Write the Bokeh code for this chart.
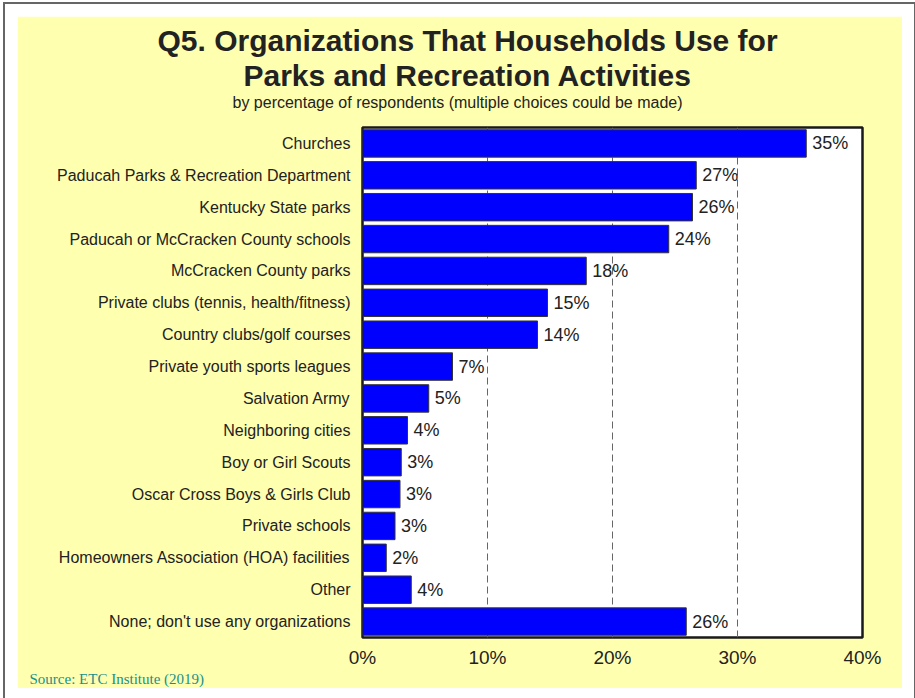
from bokeh.plotting import figure
from bokeh.models import FactorRange, Range1d, FixedTicker, Title, ColumnDataSource
from bokeh.core.properties import value
from bokeh.embed import file_html
from bokeh.resources import INLINE

categories = [
    "Churches",
    "Paducah Parks & Recreation Department",
    "Kentucky State parks",
    "Paducah or McCracken County schools",
    "McCracken County parks",
    "Private clubs (tennis, health/fitness)",
    "Country clubs/golf courses",
    "Private youth sports leagues",
    "Salvation Army",
    "Neighboring cities",
    "Boy or Girl Scouts",
    "Oscar Cross Boys & Girls Club",
    "Private schools",
    "Homeowners Association (HOA) facilities",
    "Other",
    "None; don't use any organizations",
]
percentages = [35.5, 26.7, 26.4, 24.5, 17.9, 14.8, 14.0, 7.2, 5.3, 3.6, 3.1, 3.0, 2.6, 1.9, 3.9, 25.9]
value_labels = ["35%", "27%", "26%", "24%", "18%", "15%", "14%", "7%", "5%", "4%",
                "3%", "3%", "3%", "2%", "4%", "26%"]
x_ticks = [0, 10, 20, 30, 40]
x_tick_labels = ["0%", "10%", "20%", "30%", "40%"]

title_line1 = "Q5. Organizations That Households Use for"
title_line2 = "Parks and Recreation Activities"
subtitle = "by percentage of respondents (multiple choices could be made)"
source_note = "Source:  ETC Institute (2019)"

FONT = "Liberation Sans"
TEXT = "#222222"
YELLOW = "#FFFFB0"

src = ColumnDataSource(dict(cat=categories, pct=percentages, lbl=value_labels))

p = figure(
    y_range=FactorRange(factors=categories[::-1], range_padding=0),
    x_range=Range1d(0, 40),
    frame_width=500, frame_height=510,
    min_border_left=345, min_border_right=40, min_border_top=111, min_border_bottom=49,
    output_backend="svg", toolbar_location=None,
    background_fill_color="white", border_fill_color=YELLOW,
    outline_line_color="#1A1A1A", outline_line_width=2.5,
    margin=(16, 0, 0, 17),
    styles={"outline": "2px solid #666666", "outline-offset": "12px"},
)

p.hbar(y="cat", left=0, right="pct", height=0.86, source=src,
       fill_color="#0000FF", line_color="#333333", line_width=1)

p.text(x="pct", y="cat", text="lbl", source=src, x_offset=6,
       text_align="left", text_baseline="middle",
       text_font=value(FONT), text_font_size="18px", text_color=TEXT)

# x axis
p.xaxis.ticker = FixedTicker(ticks=x_ticks)
p.xaxis.major_label_overrides = {t: l for t, l in zip(x_ticks, x_tick_labels)}
p.xaxis.axis_line_color = None
p.xaxis.major_tick_line_color = None
p.xaxis.minor_tick_line_color = None
p.xaxis.major_tick_out = 0
p.xaxis.major_tick_in = 0
p.xaxis.major_label_standoff = 9
p.xaxis.major_label_text_font = FONT
p.xaxis.major_label_text_font_size = "19px"
p.xaxis.major_label_text_color = TEXT

# y axis
p.yaxis.axis_line_color = None
p.yaxis.major_tick_line_color = None
p.yaxis.minor_tick_line_color = None
p.yaxis.major_tick_out = 0
p.yaxis.major_tick_in = 0
p.yaxis.major_label_standoff = 12
p.yaxis.major_label_text_font = FONT
p.yaxis.major_label_text_font_size = "16px"
p.yaxis.major_label_text_color = TEXT

# grids
p.xgrid.ticker = FixedTicker(ticks=x_ticks)
p.xgrid.grid_line_color = "#666666"
p.xgrid.grid_line_dash = "7 4"
p.xgrid.grid_line_width = 1
p.ygrid.grid_line_color = None

# ---- titles (stacked above the frame, nearest first) ----
# spacer between frame and subtitle
p.add_layout(Title(text=" ", align="left", text_font=FONT, text_font_size="1px",
                   standoff=14), "above")
p.add_layout(Title(text=subtitle, align="left", offset=-130, text_font=FONT,
                   text_font_size="16px", text_font_style="normal",
                   text_color=TEXT, standoff=0), "above")
p.add_layout(Title(text=title_line2, align="left", offset=-119, text_font=FONT,
                   text_font_size="30px", text_font_style="bold",
                   text_color=TEXT, standoff=0), "above")
p.title.text = title_line1
p.title.align = "left"
p.title.offset = -205
p.title.text_font = FONT
p.title.text_font_size = "30px"
p.title.text_font_style = "bold"
p.title.text_color = TEXT
p.title.standoff = 0

# source note under the axis
p.add_layout(Title(text=source_note, align="left", offset=-333, vertical_align="top",
                   text_font="Liberation Serif", text_font_size="15px",
                   text_font_style="normal", text_color="#17918A", standoff=0), "below")

open("out.html", "w").write(file_html(p, INLINE))
